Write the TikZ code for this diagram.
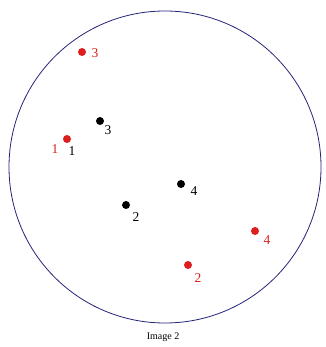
\documentclass[tikz,border=0pt]{standalone}
\usepackage{fontspec}
\setmainfont{Liberation Serif}
\begin{document}
\begin{tikzpicture}[x=1pt,y=-1pt,
 dot/.style={circle,fill,inner sep=0pt,minimum size=8pt},
 num/.style={inner sep=0pt,font=\fontsize{13.5}{13.5}\selectfont}]
\definecolor{ptred}{RGB}{220,30,30}
\definecolor{ringblue}{RGB}{35,35,120}
\useasboundingbox (0,0) rectangle (325,347);
\node[draw=ringblue,circle,minimum size=312pt,inner sep=0pt,line width=0.8pt] (ring) at (165,167) {};
% black points
\node[dot,black] (b3) at (100,121) {};
\node[dot,black] (b4) at (181,184) {};
\node[dot,black] (b2) at (126,205) {};
\node[num] (lb3) at (108,130) {3};
\node[num] (lb1) at (72,151) {1};
\node[num] (lb4) at (194,191) {4};
\node[num] (lb2) at (136,217) {2};
% red points
\node[dot,ptred] (r3) at (82,52) {};
\node[dot,ptred] (r1) at (67,139) {};
\node[dot,ptred] (r4) at (255,231) {};
\node[dot,ptred] (r2) at (188,265) {};
\node[num,ptred] (lr3) at (95,53) {3};
\node[num,ptred] (lr1) at (55,149) {1};
\node[num,ptred] (lr4) at (267,240) {4};
\node[num,ptred] (lr2) at (198,278) {2};
\node[inner sep=0pt,font=\fontsize{10}{10}\selectfont] (cap) at (163,337) {Image 2};
\end{tikzpicture}
\end{document}
